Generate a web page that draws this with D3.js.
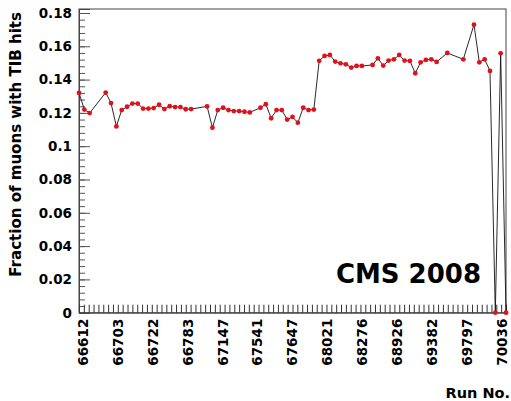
<!DOCTYPE html>
<html>
<head>
<meta charset="utf-8">
<script src="https://cdn.jsdelivr.net/npm/d3@7"></script>
<style>
  body { margin: 0; background: #fff; }
  text { font-family: "DejaVu Sans", sans-serif; font-weight: bold; fill: #000; }
</style>
</head>
<body>
<svg id="chart" width="511" height="401"></svg>
<script>
// point index along the run axis (missing indices = runs with no entry)
const binIdx = [0, 1, 2, 5, 6, 7, 8, 9, 10, 11, 12, 13, 14, 15, 16, 17, 18, 19, 20, 21,
    24, 25, 26, 27, 28, 29, 30, 31, 32, 34, 35, 36, 37, 38, 39, 40, 41, 42, 43, 44,
    45, 46, 47, 48, 49, 50, 51, 52, 53, 55, 56, 57, 58, 59, 60, 61, 62, 63, 64, 65,
    66, 67, 69, 72, 74, 75, 76, 77, 78, 79, 80];
const fraction = [0.1320, 0.1220, 0.1199, 0.1322, 0.1259, 0.1119, 0.1217, 0.1237, 0.1256, 0.1256,
    0.1226, 0.1226, 0.1229, 0.1249, 0.1223, 0.1240, 0.1235, 0.1235, 0.1222, 0.1223,
    0.1239, 0.1111, 0.1217, 0.1231, 0.1217, 0.1211, 0.1211, 0.1207, 0.1203, 0.1231,
    0.1252, 0.1168, 0.1217, 0.1217, 0.1160, 0.1176, 0.1141, 0.1231, 0.1217, 0.1220,
    0.1513, 0.1542, 0.1548, 0.1508, 0.1498, 0.1492, 0.1472, 0.1482, 0.1482, 0.1488,
    0.1528, 0.1484, 0.1514, 0.1522, 0.1548, 0.1514, 0.1512, 0.1438, 0.1504, 0.1518,
    0.1522, 0.1506, 0.1560, 0.1522, 0.1730, 0.1504, 0.1522, 0.1452, 0, 0.1558, 0];
const runLabels = ["66612", "66703", "66722", "66783", "67147", "67541", "67647",
    "68021", "68276", "68926", "69382", "69797", "70036"];

const svg = d3.select("#chart");
const padL = 79, padR = 506, padT = 9, padB = 312.7;

let x = d3.scaleLinear().domain([0, 80]).range([padL, padR]);
let y = d3.scaleLinear().domain([0, 0.1824]).range([padB, padT]);

// frame
svg.append("rect")
    .attr("x", padL).attr("y", padT)
    .attr("width", padR - padL).attr("height", padB - padT)
    .attr("fill", "none").attr("stroke", "#444").attr("stroke-width", 1);

// y axis, ticks pointing inside like ROOT
let minorY = d3.range(0, 46).map(i => i * 0.004).filter(v => v <= 0.1824);
svg.append("g")
    .attr("transform", `translate(${padL},0)`)
    .call(d3.axisLeft(y).tickValues(minorY).tickSize(-6).tickFormat(""))
    .call(g => g.select(".domain").remove())
    .selectAll("line").attr("stroke", "#555");

let yAxis = svg.append("g")
    .attr("transform", `translate(${padL},0)`)
    .call(d3.axisLeft(y).ticks(10).tickSize(-11).tickPadding(7)
        .tickFormat(d => String(+d.toFixed(2))));
yAxis.select(".domain").attr("stroke", "#444");
yAxis.selectAll("line").attr("stroke", "#555");
yAxis.selectAll("text")
    .attr("font-size", "13.5px")
    .style("font-family", "DejaVu Sans").style("font-weight", "bold").attr("fill", "#000");

// x axis ticks at the label bin edges
let xEdges = d3.range(0, 89).map(i => i * 80 / 88);
let xAxis = svg.append("g")
    .attr("transform", `translate(0,${padB})`)
    .call(d3.axisBottom(x).tickValues(xEdges).tickSize(-8).tickFormat(""));
xAxis.select(".domain").attr("stroke", "#444");
xAxis.selectAll("line").attr("stroke", "#333");

// run number labels, vertical
let xl = d3.scalePoint().domain(runLabels).range([x(0.75), x(79.25)]);
svg.append("g")
    .selectAll("text")
    .data(runLabels)
    .enter()
    .append("text")
    .attr("transform", d => `translate(${xl(d)},${padB + 6}) rotate(-90)`)
    .attr("text-anchor", "end")
    .attr("dy", "0.36em")
    .attr("font-size", "13.5px")
    .text(d => d);

// line + markers
let pts = binIdx.map((b, i) => [b, fraction[i]]);
svg.append("path")
    .datum(pts)
    .attr("fill", "none")
    .attr("stroke", "#111")
    .attr("stroke-width", 0.9)
    .attr("d", d3.line().x(d => x(d[0])).y(d => y(d[1])));

svg.append("g")
    .selectAll("circle")
    .data(pts)
    .enter()
    .append("circle")
    .attr("cx", d => x(d[0]))
    .attr("cy", d => y(d[1]))
    .attr("r", 2.4)
    .attr("fill", "#e3101b");

// titles
let ytitle = svg.append("text")
    .attr("transform", `translate(21,12) rotate(-90)`)
    .attr("text-anchor", "end")
    .attr("font-size", "12.5px")
    .text("Fraction of muons with TIB hits");
let tl = ytitle.node().getComputedTextLength();
ytitle.attr("font-size", (12.5 * 265 / tl) + "px");

svg.append("text")
    .attr("x", 510).attr("y", 398)
    .attr("text-anchor", "end")
    .attr("font-size", "14.5px")
    .text("Run No.");

svg.append("text")
    .attr("x", 481).attr("y", 283)
    .attr("text-anchor", "end")
    .attr("font-size", "26px")
    .text("CMS 2008");
</script>
</body>
</html>
